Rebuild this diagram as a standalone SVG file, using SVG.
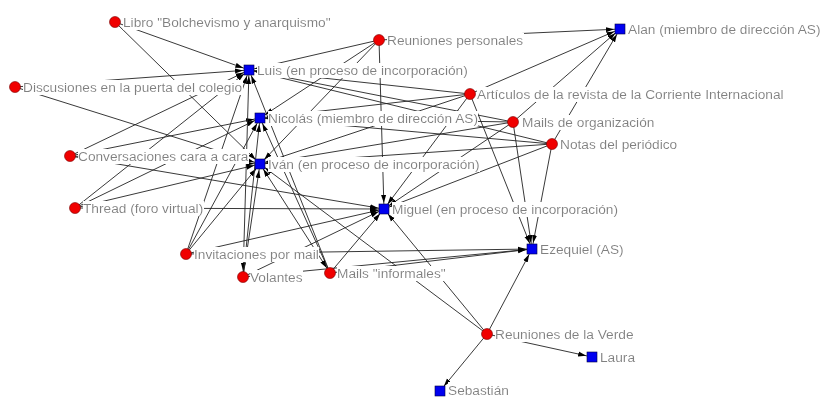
<svg xmlns="http://www.w3.org/2000/svg" width="826" height="398" viewBox="0 0 826 398">
<style>
.e{stroke:#222;stroke-width:0.9;fill:none;marker-end:url(#arr)}
.b{marker-start:url(#arrs)}
.lbl{font-family:"Liberation Sans",Arial,sans-serif;font-size:13.7px;fill:#808080;filter:url(#bg)}
.ev{fill:#f00000;stroke:#700;stroke-width:0.6}
.ac{fill:#0000f0;stroke:#000040;stroke-width:0.6}
</style>
<defs>
<filter id="bg" x="0" y="0" width="1" height="1"><feFlood flood-color="#fff"/><feComposite in="SourceGraphic"/></filter>
<marker id="arr" markerUnits="userSpaceOnUse" markerWidth="8" markerHeight="6" refX="14" refY="3" orient="auto"><path d="M0,0.5 L8,3 L0,5.5 z" fill="#000"/></marker>
<marker id="arrs" markerUnits="userSpaceOnUse" markerWidth="8" markerHeight="6" refX="14" refY="3" orient="auto-start-reverse"><path d="M0,0.5 L8,3 L0,5.5 z" fill="#000"/></marker>
</defs>
<rect width="826" height="398" fill="#fff"/>
<g id="edges">
<line class="e" x1="115" y1="22" x2="249" y2="70"/>
<line class="e" x1="115" y1="22" x2="260" y2="164"/>
<line class="e" x1="15" y1="87" x2="249" y2="70"/>
<line class="e" x1="15" y1="87" x2="260" y2="164"/>
<line class="e" x1="70" y1="156" x2="249" y2="70"/>
<line class="e" x1="70" y1="156" x2="260" y2="118"/>
<line class="e" x1="70" y1="156" x2="260" y2="164"/>
<line class="e" x1="70" y1="156" x2="384" y2="209"/>
<line class="e" x1="75" y1="208" x2="249" y2="70"/>
<line class="e" x1="75" y1="208" x2="260" y2="118"/>
<line class="e" x1="75" y1="208" x2="260" y2="164"/>
<line class="e" x1="75" y1="208" x2="384" y2="209"/>
<line class="e" x1="186" y1="254" x2="249" y2="70"/>
<line class="e" x1="186" y1="254" x2="260" y2="118"/>
<line class="e" x1="186" y1="254" x2="260" y2="164"/>
<line class="e" x1="186" y1="254" x2="384" y2="209"/>
<line class="e" x1="186" y1="254" x2="532" y2="249"/>
<line class="e b" x1="243" y1="277" x2="249" y2="70"/>
<line class="e" x1="243" y1="277" x2="260" y2="118"/>
<line class="e" x1="243" y1="277" x2="260" y2="164"/>
<line class="e" x1="243" y1="277" x2="384" y2="209"/>
<line class="e" x1="243" y1="277" x2="532" y2="249"/>
<line class="e" x1="330" y1="273" x2="249" y2="70"/>
<line class="e" x1="330" y1="273" x2="260" y2="118"/>
<line class="e b" x1="330" y1="273" x2="260" y2="164"/>
<line class="e" x1="330" y1="273" x2="384" y2="209"/>
<line class="e" x1="330" y1="273" x2="532" y2="249"/>
<line class="e" x1="379" y1="40" x2="249" y2="70"/>
<line class="e" x1="379" y1="40" x2="260" y2="118"/>
<line class="e" x1="379" y1="40" x2="260" y2="164"/>
<line class="e" x1="379" y1="40" x2="384" y2="209"/>
<line class="e" x1="379" y1="40" x2="620" y2="29"/>
<line class="e" x1="470" y1="94" x2="249" y2="70"/>
<line class="e" x1="470" y1="94" x2="260" y2="118"/>
<line class="e" x1="470" y1="94" x2="260" y2="164"/>
<line class="e" x1="470" y1="94" x2="384" y2="209"/>
<line class="e" x1="470" y1="94" x2="532" y2="249"/>
<line class="e" x1="470" y1="94" x2="620" y2="29"/>
<line class="e" x1="513" y1="122" x2="249" y2="70"/>
<line class="e" x1="513" y1="122" x2="260" y2="118"/>
<line class="e" x1="513" y1="122" x2="260" y2="164"/>
<line class="e" x1="513" y1="122" x2="384" y2="209"/>
<line class="e" x1="513" y1="122" x2="532" y2="249"/>
<line class="e" x1="513" y1="122" x2="620" y2="29"/>
<line class="e" x1="552" y1="144" x2="249" y2="70"/>
<line class="e" x1="552" y1="144" x2="260" y2="118"/>
<line class="e" x1="552" y1="144" x2="260" y2="164"/>
<line class="e" x1="552" y1="144" x2="384" y2="209"/>
<line class="e" x1="552" y1="144" x2="532" y2="249"/>
<line class="e" x1="552" y1="144" x2="620" y2="29"/>
<line class="e" x1="487" y1="334" x2="260" y2="164"/>
<line class="e" x1="487" y1="334" x2="384" y2="209"/>
<line class="e" x1="487" y1="334" x2="532" y2="249"/>
<line class="e" x1="487" y1="334" x2="592" y2="357"/>
<line class="e" x1="487" y1="334" x2="440" y2="391"/>
</g>
<g id="n-libro"><text class="lbl" x="123" y="27">Libro "Bolchevismo y anarquismo"</text><circle class="ev" cx="115" cy="22" r="5.5"/></g>
<g id="n-discusiones"><text class="lbl" x="23" y="92">Discusiones en la puerta del colegio</text><circle class="ev" cx="15" cy="87" r="5.5"/></g>
<g id="n-conversaciones"><text class="lbl" x="78" y="161">Conversaciones cara a cara</text><circle class="ev" cx="70" cy="156" r="5.5"/></g>
<g id="n-thread"><text class="lbl" x="83" y="213">Thread (foro virtual)</text><circle class="ev" cx="75" cy="208" r="5.5"/></g>
<g id="n-invitaciones"><text class="lbl" x="194" y="259">Invitaciones por mail</text><circle class="ev" cx="186" cy="254" r="5.5"/></g>
<g id="n-volantes"><text class="lbl" x="250" y="282">Volantes</text><circle class="ev" cx="243" cy="277" r="5.5"/></g>
<g id="n-mailsinf"><text class="lbl" x="337" y="278">Mails "informales"</text><circle class="ev" cx="330" cy="273" r="5.5"/></g>
<g id="n-reunpers"><text class="lbl" x="387" y="45">Reuniones personales</text><circle class="ev" cx="379" cy="40" r="5.5"/></g>
<g id="n-articulos"><text class="lbl" x="477" y="99">Artículos de la revista de la Corriente Internacional</text><circle class="ev" cx="470" cy="94" r="5.5"/></g>
<g id="n-mailsorg"><text class="lbl" x="522" y="127">Mails de organización</text><circle class="ev" cx="513" cy="122" r="5.5"/></g>
<g id="n-notas"><text class="lbl" x="560" y="149">Notas del periódico</text><circle class="ev" cx="552" cy="144" r="5.5"/></g>
<g id="n-reunverde"><text class="lbl" x="495" y="339">Reuniones de la Verde</text><circle class="ev" cx="487" cy="334" r="5.5"/></g>
<g id="n-luis"><text class="lbl" x="257" y="75">Luis (en proceso de incorporación)</text><rect class="ac" x="244" y="65" width="10" height="10"/></g>
<g id="n-nicolas"><text class="lbl" x="268" y="123">Nicolás (miembro de dirección AS)</text><rect class="ac" x="255" y="113" width="10" height="10"/></g>
<g id="n-ivan"><text class="lbl" x="268" y="169">Iván (en proceso de incorporación)</text><rect class="ac" x="255" y="159" width="10" height="10"/></g>
<g id="n-miguel"><text class="lbl" x="392" y="214">Miguel (en proceso de incorporación)</text><rect class="ac" x="379" y="204" width="10" height="10"/></g>
<g id="n-ezequiel"><text class="lbl" x="540" y="254">Ezequiel (AS)</text><rect class="ac" x="527" y="244" width="10" height="10"/></g>
<g id="n-alan"><text class="lbl" x="628" y="34">Alan (miembro de dirección AS)</text><rect class="ac" x="615" y="24" width="10" height="10"/></g>
<g id="n-laura"><text class="lbl" x="600" y="362">Laura</text><rect class="ac" x="587" y="352" width="10" height="10"/></g>
<g id="n-sebastian"><text class="lbl" x="448" y="394.5">Sebastián</text><rect class="ac" x="435" y="386" width="10" height="10"/></g>
</svg>
